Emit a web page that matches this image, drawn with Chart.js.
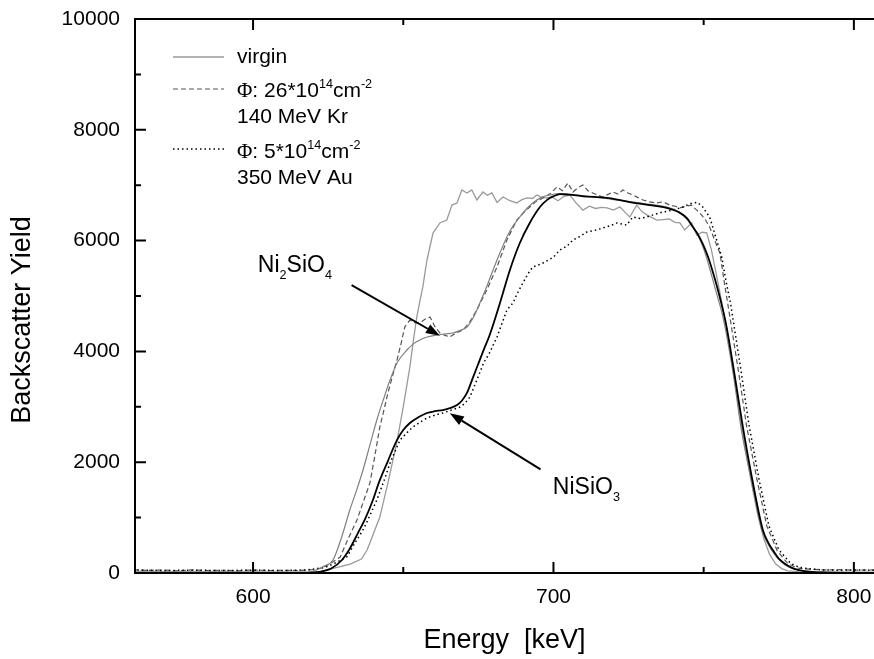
<!DOCTYPE html>
<html>
<head>
<meta charset="utf-8">
<script src="https://cdn.jsdelivr.net/npm/chart.js@4.4.0/dist/chart.umd.min.js"></script>
<style>
html, body { margin: 0; padding: 0; background: #fff; }
</style>
</head>
<body>
<canvas id="myChart" width="874" height="659"></canvas>
<script>
// energies in keV, yields in counts

// virgin sample
const virginE = [560,575,590,605,615, 622,628,632.3,636.1,638, 640,642.2,645,647.8,650, 652.2,653.5,654.5,655.5,656.5,
  657.9,659.9,662.2,664.5,666.2, 667.9,669.5,671.2,672.8,674.5, 676.5,678,679.5,681.2,683.2, 685.5,687.8,689.5,691.2,693,
  694.5,696,697.8,699.5,701.5, 703.5,705.5,707.5,709.8,712, 714,716,717.8,720,722.1, 724,725.4,727.7,729.5,731.5,
  734.4,736.5,738.5,740.5,742.1, 743.7,746,747.7,749.5,751, 752.5,754,756,758,760, 762,764,766,768,770,
  772,774,776,778,782, 790,800,807];
const virginY = [30,25,25,20,20, 20,100,162,253,420, 700,1010,1650,2346,3000, 3720,4250,4620,4900,5160,
  5650,6137,6318,6371,6642, 6679,6913,6860,6913,6733, 6877,6820,6860,6690,6787, 6720,6679,6740,6770,6760,
  6823,6780,6770,6790,6720, 6800,6820,6680,6550,6620, 6580,6600,6590,6550,6610, 6500,6425,6640,6520,6450,
  6370,6380,6390,6330,6320, 6190,6320,6100,6150,6140, 5850,5450,4900,4300,3600, 2850,2200,1600,1050,620,
  330,160,80,40,20, 15,15,15];

// 26e14 cm-2, 140 MeV Kr
const krE = [560,565,570,575,580, 585,590,595,600,605, 610,615,620,623,626, 629,631.5,634.6,636.8,638.9,
  640.5,642.2,643.6,644.9,646.4, 647.9,649.3,650.5,652.2,653.8, 655.5,657.2,658.9,660.5,662.2, 663.9,665.5,667.5,669.9,672,
  674.5,677.8,681.2,684.5,687.8, 690,692.1,694,696.5,699, 701.2,703,704.8,706.5,708, 709.8,711.5,713.1,714.8,716.4,
  718,719.8,721.5,723.1,724.8, 726.4,728,729.8,732,734.4, 736.5,738.7,740.5,742.1,744, 746,747.5,748.7,750.3,752,
  753.7,755.4,757,758.5,761.7, 764.3,767.7,771,774.5,778, 781,785,790,795,800, 807];
const krY = [60,45,55,40,55, 45,50,40,55,45, 50,45,60,90,180, 289,600,957,1300,1625,
  2100,2635,2950,3250,3550, 3845,4150,4440,4566,4520, 4512,4580,4620,4450,4332, 4290,4260,4330,4386,4520,
  4747,5108,5523,6011,6371, 6500,6606,6700,6770,6850, 6968,6900,7040,6877,6950, 7003,6900,6860,6820,6787,
  6830,6877,6840,6913,6860, 6823,6780,6733,6700,6679, 6700,6640,6620,6590,6620, 6640,6560,6500,6400,6245,
  6000,5776,5200,4700,3600, 2650,1700,850,400,170, 90,70,55,60,50, 55];

// 5e14 cm-2, 350 MeV Au
const auE = [560,570,580,590,600, 610,618,624,627.3,631.2, 634,636.6,639,641.2,643.5, 645.6,648.9,651,653.2,655.5,
  657.9,660.5,663.2,666,668.9, 670.5,672.2,674.5,676.8,678.5, 681.2,684.5,686.5,688,689.8, 691.5,693.1,695,696.5,698,
  700,702.1,704.5,706.5,709, 711.1,713.5,716.4,719,721.1, 722.8,724.4,726.4,728.5,731.1, 733.5,736.4,738,739.7,741.5,
  743.1,744.8,746.4,748,749.7, 751,752,753,754,756, 757.5,759,762.3,765,768.4, 771.7,775,779,782,786,
  790,795,800,807];
const auY = [55,45,50,45,50, 45,55,100,180,289, 550,776,1050,1318,1650, 1985,2400,2520,2635,2720,
  2798,2850,2888,2940,2996, 3060,3177,3483,3800,3950, 4260,4747,4873,5050,5234, 5400,5523,5560,5596,5640,
  5700,5830,5900,6011,6080, 6155,6180,6227,6270,6318, 6300,6281,6426,6400,6426, 6470,6516,6530,6552,6580,
  6606,6650,6679,6690,6606, 6500,6426,6250,6065,5704, 5250,4850,3700,2700,1700, 850,420,170,100,70,
  55,50,55,50];

// simulation for the Kr sample (Ni2SiO4 step)
const krFitE = [560,600,615,620,623.5, 626.6,629.5,632.2,634.5,636.6, 639,641.2,643.5,645.6,648, 651.2,653.5,655.5,658,661.2,
  664,666.5,669,671.2,673.5, 675.5,677.8,679.9,682.2,684.5, 686.5,688.8,691,693.1,696, 698.8,702,710,720,730,
  738,742,745,748,750, 752,754,756.5,760,762.5, 766,769.3,772.5,777,782, 790,807];
const krFitY = [0,0,0,30,120, 235,650,1137,1500,1860, 2330,2762,3150,3483,3800, 4025,4140,4206,4260,4296,
  4315,4332,4380,4440,4630, 4873,5170,5470,5780,6065, 6260,6426,6570,6679,6780, 6823,6850,6810,6740,6670,
  6600,6510,6350,6100,5850, 5500,5100,4600,3540,2600, 1640,790,420,150,50, 10,0];

// simulation for the Au sample (NiSiO3 step)
const auFitE = [560,600,618,622,626, 629.6,632,634.9,637.5,639.9, 642,644.6,647.9,650,652.2, 655,657.9,660.5,663.2,665.5,
  667.9,669.5,671.2,673,675, 677,678.8,682.2,685.5,688.8, 692.1,695.5,698,700,702.1, 705,710,717.8,725,732,
  737.7,742.1,744.5,746.4,748, 749.7,751.5,753.5,755.5,757.5, 760.4,763,766.4,769.7,771.5, 773,775,777.7,780,783,
  790,807];
const auFitY = [0,0,0,20,80, 235,420,720,1000,1318, 1650,1985,2400,2580,2707, 2810,2888,2920,2942,2975,
  3032,3110,3250,3500,3780, 4060,4300,4873,5470,5957, 6318,6606,6740,6800,6840, 6830,6800,6770,6700,6640,
  6590,6500,6400,6245,6120, 5940,5700,5350,4950,4480, 3540,2650,1625,776,550, 415,260,144,80,40,
  10,0];

const xMajor = [600, 700, 800];
const xMinor = [650, 750];
const yMajor = [0, 2000, 4000, 6000, 8000, 10000];
const yMinor = [1000, 3000, 5000, 7000, 9000];

function pts(xs, ys) {
  return xs.map((x, i) => ({x: x, y: ys[i]}));
}

const FONT = 'Liberation Sans';
Chart.defaults.font.family = FONT;
Chart.defaults.color = '#000';

function richText(ctx, x, y, parts, size) {
  for (const p of parts) {
    let s = size, dy = 0, fam = FONT;
    if (p.sup) { s = size * 0.6; dy = -size * 0.42; }
    if (p.sub) { s = size * 0.55; dy = size * 0.3; }
    if (p.serif) fam = 'Liberation Serif';
    ctx.font = s + 'px "' + fam + '"';
    ctx.fillText(p.t, x, y + dy);
    x += ctx.measureText(p.t).width;
  }
}

function arrow(ctx, x1, y1, x2, y2) {
  const ang = Math.atan2(y2 - y1, x2 - x1);
  const len = 14, w = 5;
  const bx = x2 - len * Math.cos(ang), by = y2 - len * Math.sin(ang);
  ctx.beginPath();
  ctx.moveTo(x1, y1);
  ctx.lineTo(bx, by);
  ctx.stroke();
  ctx.beginPath();
  ctx.moveTo(x2, y2);
  ctx.lineTo(bx + w * Math.sin(ang), by - w * Math.cos(ang));
  ctx.lineTo(bx - w * Math.sin(ang), by + w * Math.cos(ang));
  ctx.closePath();
  ctx.fill();
}

const extras = {
  id: 'extras',
  afterDraw(chart) {
    const ctx = chart.ctx;
    const a = chart.chartArea;
    const x = chart.scales.x, y = chart.scales.y;
    ctx.save();

    // frame + inward ticks
    ctx.strokeStyle = '#000';
    ctx.lineWidth = 2;
    ctx.beginPath();
    ctx.moveTo(a.left, a.top - 1); ctx.lineTo(a.left, a.bottom + 1);
    ctx.moveTo(a.left - 1, a.bottom); ctx.lineTo(a.right + 2, a.bottom);
    ctx.moveTo(a.left - 1, a.top); ctx.lineTo(a.right + 2, a.top);
    for (const v of xMajor) {
      const px = x.getPixelForValue(v);
      ctx.moveTo(px, a.bottom); ctx.lineTo(px, a.bottom - 11);
      ctx.moveTo(px, a.top); ctx.lineTo(px, a.top + 11);
    }
    for (const v of xMinor) {
      const px = x.getPixelForValue(v);
      ctx.moveTo(px, a.bottom); ctx.lineTo(px, a.bottom - 6);
      ctx.moveTo(px, a.top); ctx.lineTo(px, a.top + 6);
    }
    for (const v of yMajor) {
      const py = y.getPixelForValue(v);
      ctx.moveTo(a.left, py); ctx.lineTo(a.left + 11, py);
    }
    for (const v of yMinor) {
      const py = y.getPixelForValue(v);
      ctx.moveTo(a.left, py); ctx.lineTo(a.left + 6, py);
    }
    ctx.stroke();

    // y axis title
    ctx.fillStyle = '#000';
    ctx.save();
    ctx.translate(23, 320);
    ctx.rotate(-Math.PI / 2);
    ctx.font = '27px "' + FONT + '"';
    ctx.textAlign = 'center';
    ctx.textBaseline = 'middle';
    ctx.fillText('Backscatter Yield', 0, 0);
    ctx.restore();

    // legend
    const ds = chart.data.datasets;
    const lx = a.left + 38, tx = a.left + 102;
    const rows = [
      {d: ds[0], ly: 57},
      {d: ds[1], ly: 89},
      {d: ds[2], ly: 149}
    ];
    for (const r of rows) {
      ctx.strokeStyle = r.d.borderColor;
      ctx.lineWidth = r.d.borderWidth;
      ctx.setLineDash(r.d.borderDash || []);
      ctx.beginPath();
      ctx.moveTo(lx, r.ly); ctx.lineTo(lx + 51, r.ly);
      ctx.stroke();
    }
    ctx.setLineDash([]);
    ctx.textBaseline = 'alphabetic';
    ctx.textAlign = 'left';
    richText(ctx, tx, 63, [{t: 'virgin'}], 21);
    richText(ctx, tx, 97, [{t: 'Φ', serif: true}, {t: ': 26*10'}, {t: '14', sup: true}, {t: 'cm'}, {t: '-2', sup: true}], 21);
    richText(ctx, tx, 123, [{t: '140 MeV Kr'}], 21);
    richText(ctx, tx, 158, [{t: 'Φ', serif: true}, {t: ': 5*10'}, {t: '14', sup: true}, {t: 'cm'}, {t: '-2', sup: true}], 21);
    richText(ctx, tx, 184, [{t: '350 MeV Au'}], 21);

    // phase labels and arrows
    ctx.strokeStyle = '#000';
    ctx.lineWidth = 2;
    arrow(ctx, x.getPixelForValue(632.8), y.getPixelForValue(5198), x.getPixelForValue(662.2), y.getPixelForValue(4283));
    arrow(ctx, x.getPixelForValue(695.7), y.getPixelForValue(1872), x.getPixelForValue(665.5), y.getPixelForValue(2883));
    richText(ctx, x.getPixelForValue(601.6), y.getPixelForValue(5433),
      [{t: 'Ni'}, {t: '2', sub: true}, {t: 'SiO'}, {t: '4', sub: true}], 23);
    richText(ctx, x.getPixelForValue(699.8), y.getPixelForValue(1426),
      [{t: 'NiSiO'}, {t: '3', sub: true}], 23);

    ctx.restore();
  }
};

const config = {
  type: 'line',
  data: {
    datasets: [
      {label: 'virgin', data: pts(virginE, virginY), borderColor: '#9a9a9a', borderWidth: 1.3, tension: 0, order: 5},
      {label: 'Kr', data: pts(krE, krY), borderColor: '#555555', borderWidth: 1.2, borderDash: [5, 3], tension: 0, order: 4},
      {label: 'Au', data: pts(auE, auY), borderColor: '#000000', borderWidth: 1.5, borderDash: [1.5, 3], tension: 0, order: 3},
      {label: 'Kr fit', data: pts(krFitE, krFitY), borderColor: '#808080', borderWidth: 1.2, cubicInterpolationMode: 'monotone', order: 2},
      {label: 'Au fit', data: pts(auFitE, auFitY), borderColor: '#000000', borderWidth: 1.8, cubicInterpolationMode: 'monotone', order: 1}
    ]
  },
  options: {
    responsive: false,
    animation: false,
    layout: {padding: {top: 19, right: 0, left: 0, bottom: 0}},
    elements: {point: {radius: 0}},
    plugins: {legend: {display: false}, tooltip: {enabled: false}},
    scales: {
      x: {
        type: 'linear',
        min: 560.7,
        max: 806.7,
        grid: {display: false, drawTicks: false},
        border: {display: false},
        ticks: {stepSize: 100, includeBounds: false, padding: 12, maxRotation: 0, font: {size: 21}, callback: v => String(v)},
        title: {display: true, text: 'Energy  [keV]', font: {size: 27}, padding: {top: 0, bottom: 2}},
        afterFit: s => { s.height = 86; s.paddingLeft = 0; s.paddingRight = 0; }
      },
      y: {
        type: 'linear',
        min: 0,
        max: 10000,
        grid: {display: false, drawTicks: false},
        border: {display: false},
        ticks: {stepSize: 2000, padding: 15, font: {size: 21}, callback: v => String(v)},
        afterFit: s => { s.width = 135; s.paddingTop = 0; s.paddingBottom = 0; }
      }
    }
  },
  plugins: [extras]
};

new Chart(document.getElementById('myChart'), config);
</script>
</body>
</html>
